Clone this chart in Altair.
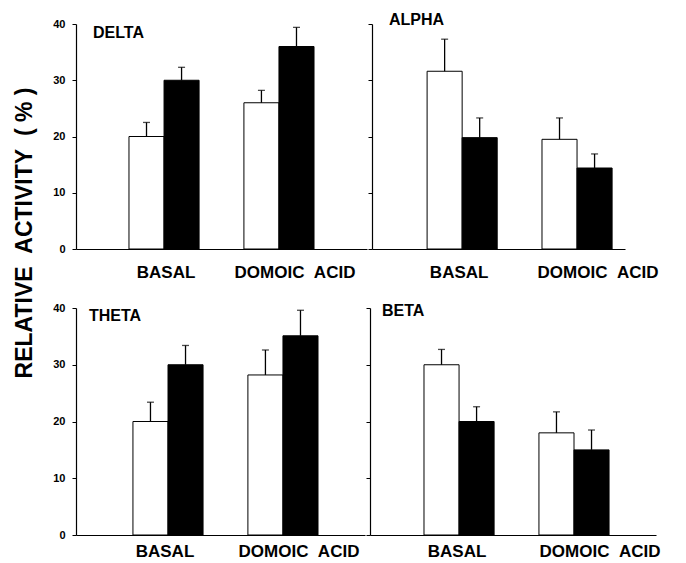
import altair as alt
import pandas as pd

conditions = ["BASAL", "DOMOIC ACID"]
groups = ["open", "filled"]
bar_condition = ["BASAL", "BASAL", "DOMOIC ACID", "DOMOIC ACID"]
bar_group = ["open", "filled", "open", "filled"]

delta_mean = [20.0, 30.0, 26.0, 36.0]
delta_upper = [22.5, 32.3, 28.2, 39.4]
alpha_mean = [31.6, 19.8, 19.5, 14.4]
alpha_upper = [37.3, 23.3, 23.3, 16.9]
theta_mean = [20.0, 30.0, 28.2, 35.1]
theta_upper = [23.4, 33.4, 32.6, 39.6]
beta_mean = [30.0, 20.0, 18.0, 15.0]
beta_upper = [32.7, 22.6, 21.7, 18.5]

y_ticks = [0, 10, 20, 30, 40]
y_title = "RELATIVE ACTIVITY (%)"

FONT = "Liberation Sans"
NB = "\u00a0"


def panel(name, means, uppers, width, height, pad_outer, align, show_labels,
          off_basal, off_domoic, label_pad, title_x, title_y):
    df = pd.DataFrame({
        "condition": bar_condition,
        "group": bar_group,
        "mean": means,
        "upper": uppers,
    })
    x = alt.X(
        "condition:N",
        sort=conditions,
        scale=alt.Scale(domain=conditions, paddingInner=0.39,
                        paddingOuter=pad_outer, align=align),
        axis=alt.Axis(
            title=None, ticks=False, labelAngle=0, labelFontSize=17,
            labelFont=FONT, labelFontWeight="bold", labelPadding=label_pad,
            labelColor="black", domainColor="black", domainWidth=1.2,
            labelExpr="replace(datum.label, ' ', '" + NB * 2 + "')",
            labelOffset={"condition": {"test": "datum.value === 'DOMOIC ACID'",
                                       "value": off_domoic}, "value": off_basal},
        ),
    )
    xo = alt.XOffset("group:N", sort=groups,
                     scale=alt.Scale(domain=groups, paddingInner=0, paddingOuter=0))
    yscale = alt.Scale(domain=[0, 40], nice=False)
    y = alt.Y(
        "mean:Q",
        scale=yscale,
        axis=alt.Axis(
            title=None, values=y_ticks, grid=False, labels=show_labels,
            tickSize=4, tickColor="black", tickWidth=1, domainColor="black",
            domainWidth=1.2, labelFontSize=11, labelFont=FONT,
            labelFontWeight="bold", labelColor="black", labelPadding=7,
        ),
    )
    fill = alt.Fill("group:N",
                    scale=alt.Scale(domain=groups, range=["white", "black"]),
                    legend=None)
    bars = alt.Chart(df).mark_bar(stroke="black", strokeWidth=1).encode(
        x=x, xOffset=xo, y=y, fill=fill)
    err = alt.Chart(df).mark_rule(color="black", strokeWidth=1.3).encode(
        x=x, xOffset=xo, y=alt.Y("mean:Q", scale=yscale), y2="upper:Q")
    cap = alt.Chart(df).mark_tick(color="black", thickness=1.3, size=7).encode(
        x=x, xOffset=xo, y=alt.Y("upper:Q", scale=yscale))
    title = alt.Chart(pd.DataFrame({"label": [name]})).mark_text(
        align="left", baseline="alphabetic", fontSize=16, font=FONT,
        fontWeight="bold", color="black",
    ).encode(x=alt.value(title_x), y=alt.value(title_y), text="label:N")
    return alt.layer(bars, err, cap, title).properties(width=width, height=height)


tl = panel("DELTA", delta_mean, delta_upper, 291, 225, 0.461, 0.5, True,
           2, 16, 15, 17, 14)
tr = panel("ALPHA", alpha_mean, alpha_upper, 253, 225, 0.296, 0.81, False,
           -3, 21, 15, 17, 1)
bl = panel("THETA", theta_mean, theta_upper, 289, 227, 0.452, 0.548, True,
           -3, 16, 8, 13, 13)
br = panel("BETA", beta_mean, beta_upper, 286, 227, 0.439, 0.535, False,
           -2, 26, 8, 12, 8)

top = alt.hconcat(tl, tr, spacing=0).resolve_scale(x="independent", y="independent")
bottom = alt.hconcat(bl, br, spacing=0).resolve_scale(x="independent", y="independent")
grid = alt.vconcat(top, bottom, spacing=22).resolve_scale(x="independent", y="independent")

ytitle = alt.Chart(pd.DataFrame({"t": [y_title]})).transform_calculate(
    t2="replace(replace(datum.t, / /g, '" + NB * 2 + "'), '%', '" + NB + "%" + NB + "')"
).mark_text(
    angle=270, fontSize=23, fontWeight="bold", font=FONT, color="black",
    align="center", baseline="middle",
).encode(x=alt.value(6), y=alt.value(209), text="t2:N").properties(width=16, height=520)

chart = alt.hconcat(ytitle, grid, spacing=14).resolve_scale(
    x="independent", y="independent"
).configure_view(stroke=None).properties(
    padding={"top": 4, "left": 5, "right": 5, "bottom": 5},
    background="white",
)

chart.save("out.html", embed_options={"renderer": "svg", "actions": False})
